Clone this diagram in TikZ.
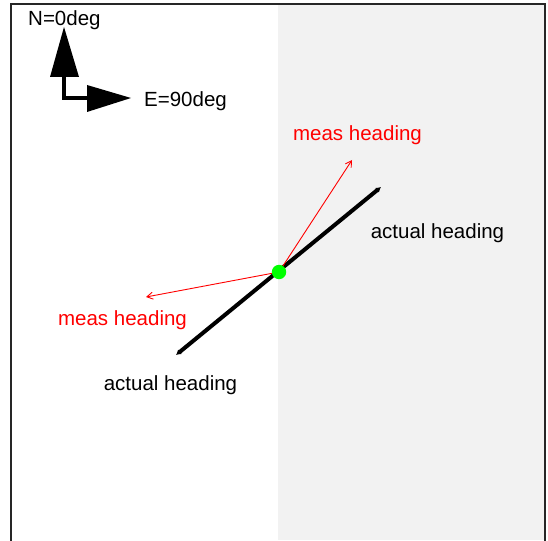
\documentclass[tikz,border=0pt]{standalone}
\usepackage{fontspec}
\setmainfont{Liberation Sans}
\usetikzlibrary{arrows.meta}
\definecolor{panelgray}{HTML}{F2F2F2}
\tikzset{
  lbl/.style={inner sep=0pt, font=\fontsize{20.5}{23}\selectfont},
  meas/.style={draw=red, line width=0.9pt, -{Straight Barb[length=6pt,width=7pt]}},
  actual/.style={draw=black, line width=4pt, {Latex[length=5pt,width=6pt]}-{Latex[length=5pt,width=6pt]}},
  compass/.style={fill=black, draw=none},
}
\begin{document}
\begin{tikzpicture}[x=1pt, y=-1pt]
  \useasboundingbox (0,0) rectangle (548,540);
  % shaded right half and frame
  \fill[panelgray] (278,4) rectangle (545,540);
  \draw[line width=1.5pt, black!85] (11,545) -- (11,4) -- (545,4) -- (545,545);

  % compass
  \coordinate (stemtop) at (64,77);
  \coordinate (corner) at (64,98);
  \coordinate (stemend) at (88,98);
  \draw[line width=4pt, line cap=butt, line join=miter] (stemtop) -- (corner) -- (stemend);
  \fill[compass] (64,27) -- (79,77) -- (50,77) -- cycle;
  \fill[compass] (131,98) -- (87,112) -- (87,85) -- cycle;
  \node[lbl, anchor=base west] (north) at (28,26) {N=0deg};
  \node[lbl, anchor=base west] (east) at (144,107) {E=90deg};

  % headings
  \coordinate (centre) at (279,272);
  \coordinate (actA) at (381,187);
  \coordinate (actB) at (176,355);
  \coordinate (measA) at (352,160);
  \coordinate (measB) at (146,297);
  \draw[actual] (actB) -- (actA);
  \draw[meas] (centre) -- (measA);
  \draw[meas] (centre) -- (measB);
  \fill[green] (centre) circle (7.2pt);

  \node[lbl, red] (measlabA) at (357.5,135.5) {meas heading};
  \node[lbl] (actlabA) at (437.5,233.5) {actual heading};
  \node[lbl, red] (measlabB) at (122.5,320.5) {meas heading};
  \node[lbl] (actlabB) at (170.5,385.5) {actual heading};
\end{tikzpicture}
\end{document}
